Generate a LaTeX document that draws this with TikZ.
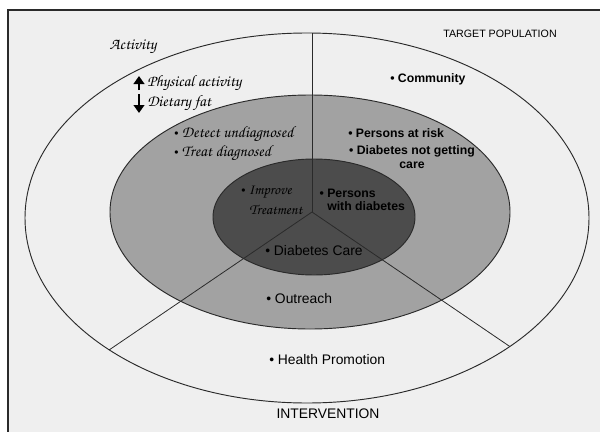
\documentclass[tikz,border=0pt]{standalone}
\usepackage[T1]{fontenc}
\usepackage{fontspec}
\newfontfamily\arial{Liberation Sans}
\newcommand\handfont{\fontencoding{T1}\fontfamily{pzc}\fontseries{mb}\fontshape{it}\selectfont}
\usetikzlibrary{arrows.meta}
\definecolor{paper}{HTML}{EFEFEF}
\definecolor{midgrey}{HTML}{A2A2A2}
\definecolor{darkgrey}{HTML}{4C4C4C}
\definecolor{ink}{HTML}{2A2A2A}
\begin{document}
\begin{tikzpicture}[x=0.75pt,y=-0.75pt,
  ring/.style={draw=ink,line width=0.7pt},
  divider/.style={draw=ink,line width=0.6pt},
  hand/.style={inner sep=0pt,font=\handfont\fontsize{12}{13}\selectfont,text=black},
  plain/.style={inner sep=0pt,font=\arial\fontsize{10.4}{12}\selectfont,text=black},
  heavy/.style={inner sep=0pt,font=\arial\bfseries\fontsize{9.2}{10}\selectfont,text=black},
  updown/.style={line width=2pt,-{Triangle[width=8pt,length=6pt]}}]
\useasboundingbox (0,0) rectangle (600,432);
% page and frame
\fill[white] (0,0) rectangle (600,432);
\fill[paper] (8,10) rectangle (600,432);
\draw[line width=1.6pt,draw=ink] (600,10) -- (8,10) -- (8,432);

% the three nested rings
\coordinate (oc) at (307,218);
\coordinate (mc) at (310,212);
\coordinate (ic) at (314,217);
\coordinate (hub) at (312,212);
\path[ring,fill=paper] (oc) ellipse [x radius=282, y radius=185];
\path[ring,fill=midgrey] (mc) ellipse [x radius=200, y radius=117];
\path[ring,fill=darkgrey] (ic) ellipse [x radius=101, y radius=58];

% three sector dividers, cut off at the outer ring
\begin{scope}
  \clip (oc) ellipse [x radius=282, y radius=185];
  \draw[divider] (hub) -- ++(0,-300);
  \draw[divider] (hub) -- ++(-300,204);
  \draw[divider] (hub) -- ++(300,204);
\end{scope}

% activity side
\node[hand] (activity) at (133,47) {Activity};
\draw[updown] (139,90) -- (139,76);
\draw[updown] (139,94) -- (139,113);
\node[hand,anchor=west] (phys) at (147,83) {Physical activity};
\node[hand,anchor=west] (fat) at (147,103) {Dietary fat};
\node[hand,anchor=west] (detect) at (174,134) {{\arial\fontsize{9}{10}\selectfont •}\ Detect undiagnosed};
\node[hand,anchor=west] (treat) at (174,153) {{\arial\fontsize{9}{10}\selectfont •}\ Treat diagnosed};
\node[hand,anchor=west,font=\handfont\fontsize{11}{12}\selectfont] (improve) at (241,192) {{\arial\fontsize{9}{10}\selectfont •}\ Improve};
\node[hand,anchor=west,font=\handfont\fontsize{11}{12}\selectfont] (treatment) at (249,210) {Treatment};

% target population side
\node[inner sep=0pt,font=\arial\fontsize{8}{9}\selectfont] (target) at (500,34) {TARGET POPULATION};
\node[heavy,anchor=west] (community) at (390,79) {• Community};
\node[heavy,anchor=west] (risk) at (348,133) {• Persons at risk};
\node[heavy,align=center] (notcare) at (412,157) {• Diabetes not getting\\care};
\node[heavy,align=left,anchor=west] (withdia) at (327,200) {\llap{• }Persons\\with diabetes};

% intervention side
\node[plain,anchor=west] (care) at (265,251) {• Diabetes Care};
\node[plain,anchor=west] (outreach) at (266,299) {• Outreach};
\node[plain,anchor=west] (promo) at (269,360) {• Health Promotion};
\node[plain] (intervention) at (328,414) {INTERVENTION};
\end{tikzpicture}
\end{document}
